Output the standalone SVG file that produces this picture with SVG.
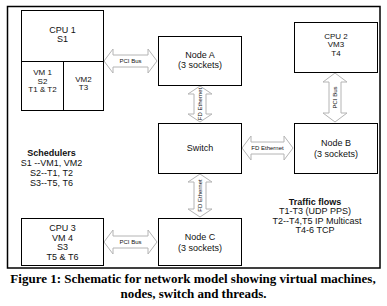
<svg xmlns="http://www.w3.org/2000/svg" width="387" height="306" viewBox="0 0 387 306">
<style>
.box{fill:#fff;stroke:#000;stroke-width:1}
.t{font-family:"Liberation Sans",Arial,sans-serif;font-size:9px;fill:#111;text-anchor:middle}
.s{font-size:8px}
.b{font-weight:bold}
.arr{fill:#fff;stroke:#b4b4b4;stroke-width:1}
.al{font-family:"Liberation Sans",Arial,sans-serif;font-size:6px;fill:#111;text-anchor:middle}
.cap{font-family:"Liberation Serif","Times New Roman",serif;font-size:13px;font-weight:bold;fill:#000;text-anchor:middle}
</style>
<rect x="0" y="0" width="387" height="306" fill="#fff"/>
<rect x="7.5" y="6.5" width="372.5" height="261.5" fill="none" stroke="#000" stroke-width="1.5"/>

<g id="connectors">
  <path class="arr" d="M104,61 L113,49 L113,55 L148,55 L148,49 L157,61 L148,73 L148,67 L113,67 L113,73 Z"/>
  <text class="al" x="130.5" y="63">PCI Bus</text>
  <path class="arr" d="M104,242 L113,230 L113,236 L148,236 L148,230 L157,242 L148,254 L148,248 L113,248 L113,254 Z"/>
  <text class="al" x="130.5" y="244">PCI Bus</text>
  <path class="arr" d="M242,148 L251,136 L251,142 L284,142 L284,136 L293,148 L284,160 L284,154 L251,154 L251,160 Z"/>
  <text class="al" x="267.5" y="150">FD Ethernet</text>
  <path class="arr" d="M200,86 L212,94 L206,94 L206,114 L212,114 L200,122 L188,114 L194,114 L194,94 L188,94 Z"/>
  <text class="al" transform="translate(202,104) rotate(-90)">FD Ethernet</text>
  <path class="arr" d="M200,174 L212,182 L206,182 L206,209 L212,209 L200,217 L188,209 L194,209 L194,182 L188,182 Z"/>
  <text class="al" transform="translate(202,195.5) rotate(-90)">FD Ethernet</text>
  <path class="arr" d="M335,73 L347,82 L341,82 L341,113 L347,113 L335,122 L323,113 L329,113 L329,82 L323,82 Z"/>
  <text class="al" transform="translate(337,97.5) rotate(-90)">PCI Bus</text>
</g>

<g id="cpu1">
  <rect class="box" x="21.5" y="10.5" width="82" height="100"/>
  <line x1="21.5" y1="61.5" x2="103.5" y2="61.5" stroke="#000"/>
  <line x1="63.5" y1="61.5" x2="63.5" y2="110.5" stroke="#000"/>
  <text class="t" x="62.5" y="33">CPU 1</text>
  <text class="t" x="62.5" y="42">S1</text>
</g>
<g id="vm1">
  <text class="t s" x="42.5" y="75">VM 1</text>
  <text class="t s" x="42.5" y="83.5">S2</text>
  <text class="t s" x="42.5" y="92">T1 &amp; T2</text>
</g>
<g id="vm2">
  <text class="t s" x="83.5" y="81.5">VM2</text>
  <text class="t s" x="83.5" y="90">T3</text>
</g>
<g id="nodeA">
  <rect class="box" x="158.5" y="36.5" width="83" height="49"/>
  <text class="t" x="200" y="58">Node A</text>
  <text class="t" x="200" y="67.5">(3 sockets)</text>
</g>
<g id="cpu2">
  <rect class="box" x="294.5" y="22.5" width="83" height="50"/>
  <text class="t s" x="336" y="38.5">CPU  2</text>
  <text class="t s" x="336" y="47">VM3</text>
  <text class="t s" x="336" y="55.5">T4</text>
</g>
<g id="switch">
  <rect class="box" x="158.5" y="123.5" width="83" height="50"/>
  <text class="t" x="200" y="151">Switch</text>
</g>
<g id="nodeB">
  <rect class="box" x="294.5" y="123.5" width="83" height="50"/>
  <text class="t" x="336" y="146">Node B</text>
  <text class="t" x="336" y="157">(3 sockets)</text>
</g>
<g id="cpu3">
  <rect class="box" x="21.5" y="218.5" width="82" height="47"/>
  <text class="t" x="62.5" y="231">CPU 3</text>
  <text class="t" x="62.5" y="240.5">VM 4</text>
  <text class="t" x="62.5" y="250">S3</text>
  <text class="t" x="62.5" y="259.5">T5 &amp; T6</text>
</g>
<g id="nodeC">
  <rect class="box" x="158.5" y="218.5" width="83" height="47"/>
  <text class="t" x="200" y="240">Node C</text>
  <text class="t" x="200" y="251">(3 sockets)</text>
</g>
<g id="schedulers">
  <text class="t b" x="51.5" y="156">Schedulers</text>
  <text class="t" x="51.5" y="166">S1 --VM1, VM2</text>
  <text class="t" x="51.5" y="176">S2--T1, T2</text>
  <text class="t" x="51.5" y="186">S3--T5, T6</text>
</g>
<g id="traffic">
  <text class="t b" x="315" y="204.5">Traffic flows</text>
  <text class="t" x="315" y="214">T1-T3 (UDP PPS)</text>
  <text class="t" x="317" y="223.5">T2--T4,T5 IP Multicast</text>
  <text class="t" x="315" y="233">T4-6 TCP</text>
</g>
<text class="cap" x="193" y="283">Figure 1: Schematic for network model showing virtual machines,</text>
<text class="cap" x="193.5" y="298">nodes, switch and threads.</text>
</svg>
